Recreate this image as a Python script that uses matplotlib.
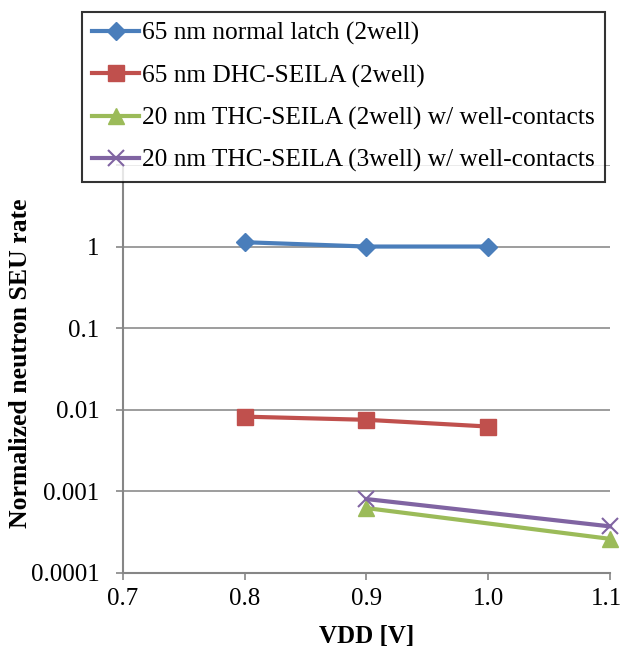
import matplotlib
matplotlib.use("Agg")
import matplotlib.pyplot as plt
import matplotlib.transforms as mtransforms
from matplotlib.ticker import FixedLocator, NullLocator, FixedFormatter

plt.rcParams['font.family'] = ['Liberation Serif', 'DejaVu Serif']

labels = ["65 nm normal latch (2well)",
          "65 nm DHC-SEILA (2well)",
          "20 nm THC-SEILA (2well) w/ well-contacts",
          "20 nm THC-SEILA (3well) w/ well-contacts"]
vdd_65 = [0.8, 0.9, 1.0]
normal_latch = [1.13, 1.0, 1.0]
dhc_seila = [0.0082, 0.0075, 0.0062]
vdd_20 = [0.9, 1.1]
thc_2well = [0.00062, 0.00026]
thc_3well = [0.00080, 0.00037]

xticks = [0.7, 0.8, 0.9, 1.0, 1.1]
xticklabels = ["0.7", "0.8", "0.9", "1.0", "1.1"]
yticks = [0.0001, 0.001, 0.01, 0.1, 1]
yticklabels = ["0.0001", "0.001", "0.01", "0.1", "1"]

W, H = 622, 651
fig = plt.figure(figsize=(W/100, H/100), dpi=100)
ax = fig.add_axes([123/W, 1-572.7/H, (610-123)/W, (572.7-165)/H])

ax.plot(vdd_65, normal_latch, color="#4A7EBB", lw=3, marker="D", ms=9, label=labels[0], zorder=3, clip_on=False)
ax.plot(vdd_65, dhc_seila, color="#C0504D", lw=3, marker="s", ms=12, label=labels[1], zorder=3, clip_on=False)
ax.plot(vdd_20, thc_2well, color="#9BBB59", lw=3, marker="^", ms=12, label=labels[2], zorder=3, clip_on=False)
ax.plot(vdd_20, thc_3well, color="#8064A2", lw=3, marker="x", ms=11, mew=1.5, label=labels[3], zorder=4, clip_on=False)

ax.set_yscale("log")
ax.set_xlim(0.7, 1.1)
ax.set_ylim(0.0001, 10)
ax.xaxis.set_major_locator(FixedLocator(xticks))
ax.xaxis.set_major_formatter(FixedFormatter(xticklabels))
ax.yaxis.set_major_locator(FixedLocator(yticks + [10]))
ax.yaxis.set_major_formatter(FixedFormatter(yticklabels + [""]))
ax.yaxis.set_minor_locator(NullLocator())
ax.grid(axis="y", color="#8C8C8C", lw=1.2)
ax.set_axisbelow(True)
for s in ["top", "right"]:
    ax.spines[s].set_visible(False)
for s in ["left", "bottom"]:
    ax.spines[s].set_color("#868686")
    ax.spines[s].set_linewidth(1.5)
ax.tick_params(axis="both", direction="out", length=5, width=1.2, color="#868686",
               labelsize=18)
ax.tick_params(axis="y", pad=12)
ax.tick_params(axis="x", pad=6)

# shift the last x tick label slightly left so it fits inside the figure
last_lbl = ax.get_xticklabels()[-1]
last_lbl.set_transform(last_lbl.get_transform() +
                       mtransforms.ScaledTranslation(-4/100, 0, fig.dpi_scale_trans))

ax.set_xlabel("VDD [V]", fontsize=18, fontweight="bold", labelpad=11)
ax.set_ylabel("Normalized neutron SEU rate", fontsize=18.5, fontweight="bold")
ax.yaxis.label.set_verticalalignment("center")
ax.yaxis.set_label_coords(21/W, 1-363/H, transform=fig.transFigure)

leg = fig.legend(loc="upper left", bbox_to_anchor=(82/W, 1-12/H), bbox_transform=fig.transFigure,
                 borderaxespad=0, fontsize=18.3, frameon=True, fancybox=False,
                 handlelength=1.85, handletextpad=0.1, labelspacing=0.75, borderpad=0.4)
leg.get_frame().set_edgecolor("black")
leg.get_frame().set_linewidth(1.5)

fig.savefig("out.png", dpi=100)
